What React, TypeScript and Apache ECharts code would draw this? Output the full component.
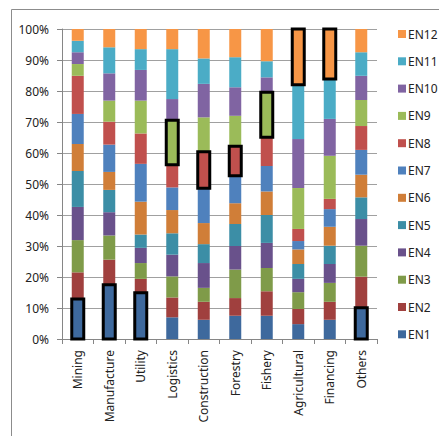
import React, { useEffect, useRef } from "react";
import * as echarts from "echarts";

// Industry categories along the x axis
const categories = [
  "Mining",
  "Manufacture",
  "Utility",
  "Logistics",
  "Construction",
  "Forestry",
  "Fishery",
  "Agricultural",
  "Financing",
  "Others",
];

const seriesNames = ["EN1", "EN2", "EN3", "EN4", "EN5", "EN6", "EN7", "EN8", "EN9", "EN10", "EN11", "EN12"];

// Share (%) of each component per industry
const en1 = [12.9, 17.5, 14.9, 7.0, 6.2, 7.5, 7.5, 4.8, 6.2, 10.1];
const en2 = [8.6, 8.1, 4.5, 6.4, 5.8, 5.7, 7.9, 4.9, 5.8, 10.0];
const en3 = [10.4, 7.8, 5.1, 6.8, 4.5, 9.2, 7.5, 5.4, 6.1, 10.0];
const en4 = [10.7, 7.5, 4.9, 7.0, 8.0, 7.6, 8.1, 4.3, 6.1, 8.6];
const en5 = [11.6, 7.2, 4.3, 6.9, 6.1, 7.1, 9.0, 4.8, 5.9, 7.0];
const en6 = [8.7, 5.8, 10.6, 7.5, 6.8, 6.7, 7.6, 4.7, 6.1, 7.3];
const en7 = [9.7, 8.8, 12.2, 7.3, 11.2, 8.9, 8.2, 2.7, 5.7, 8.0];
const en8 = [12.3, 7.4, 9.8, 7.3, 11.8, 9.5, 9.3, 3.9, 3.3, 7.7];
const en9 = [3.8, 6.8, 10.6, 14.4, 11.1, 9.8, 14.5, 13.2, 13.9, 8.4];
const en10 = [3.8, 8.8, 9.9, 6.8, 10.8, 9.2, 4.8, 15.8, 11.9, 7.8];
const en11 = [3.7, 8.4, 6.7, 16.1, 8.2, 9.7, 5.2, 17.5, 12.9, 7.6];
const en12 = [3.8, 5.9, 6.5, 6.5, 9.5, 9.1, 10.4, 18.0, 16.1, 7.5];

// The component outlined in each industry
const highlighted = ["EN1", "EN1", "EN1", "EN9", "EN8", "EN8", "EN9", "EN12", "EN12", "EN1"];

const yTicks = [0, 10, 20, 30, 40, 50, 60, 70, 80, 90, 100];

const colors = [
  "#3E699D",
  "#A0403E",
  "#7F9B49",
  "#69518B",
  "#3C8EA6",
  "#D07E38",
  "#4F81BD",
  "#C0504D",
  "#9BBB59",
  "#8064A2",
  "#4BACC6",
  "#F79646",
];

const seriesValues = [en1, en2, en3, en4, en5, en6, en7, en8, en9, en10, en11, en12];

export default function App() {
  const ref = useRef<HTMLDivElement>(null);

  useEffect(() => {
    if (!ref.current) return;
    const chart = echarts.init(ref.current, undefined, { renderer: "svg" });

    const font = "'Noto Sans', sans-serif";

    const barSeries = seriesNames.map((name, i) => ({
      name,
      type: "bar",
      stack: "total",
      barWidth: 12,
      itemStyle: { color: colors[i] },
      data: seriesValues[i],
    }));

    // Lower/upper bounds of the outlined segment in each stacked column
    const outlineData = categories.map((_, c) => {
      const idx = seriesNames.indexOf(highlighted[c]);
      let lower = 0;
      for (let s = 0; s < idx; s++) lower += seriesValues[s][c];
      return [c, lower, lower + seriesValues[idx][c]];
    });

    chart.setOption({
      animation: false,
      color: colors,
      graphic: [
        {
          type: "rect",
          shape: { x: 11.5, y: 9.5, width: 600, height: 600 },
          style: { fill: "none", stroke: "#8c8c8c", lineWidth: 1 },
          silent: true,
          z: -10,
        },
      ],
      grid: { left: 62, right: 62, top: 29, bottom: 97 },
      legend: {
        orient: "vertical",
        left: 393,
        top: 23,
        itemWidth: 8,
        itemHeight: 8,
        itemGap: 15.3,
        icon: "rect",
        data: [...seriesNames].reverse(),
        textStyle: { fontFamily: font, fontSize: 12, color: "#222", lineHeight: 12, padding: [0, 0, 0, -3] },
      },
      xAxis: {
        type: "category",
        data: categories,
        axisLine: { lineStyle: { color: "#868686" } },
        axisTick: { show: true, length: 5, lineStyle: { color: "#868686" } },
        axisLabel: {
          rotate: 90,
          margin: 11,
          interval: 0,
          fontFamily: font,
          fontSize: 12,
          color: "#222",
        },
      },
      yAxis: {
        type: "value",
        min: 0,
        max: 100,
        interval: 10,
        axisLine: { show: true, lineStyle: { color: "#868686" } },
        axisTick: { show: true, length: 5, lineStyle: { color: "#868686" } },
        splitLine: { lineStyle: { color: "#a0a0a0" } },
        axisLabel: {
          margin: 13,
          fontFamily: font,
          fontSize: 12,
          color: "#222",
          formatter: (v: number) => (yTicks.includes(v) ? `${v}%` : ""),
        },
      },
      series: [
        ...barSeries,
        {
          type: "custom",
          z: 10,
          silent: true,
          encode: { x: 0, y: [1, 2] },
          data: outlineData,
          renderItem: (_params: any, api: any) => {
            const c = api.value(0);
            const lo = api.coord([c, api.value(1)]);
            const hi = api.coord([c, api.value(2)]);
            return {
              type: "rect",
              shape: { x: lo[0] - 6, y: hi[1], width: 12, height: lo[1] - hi[1] },
              style: { fill: "none", stroke: "#000", lineWidth: 3 },
            };
          },
        },
      ],
    });

    return () => chart.dispose();
  }, []);

  return (
    <div
      ref={ref}
      style={{ position: "fixed", left: 0, top: 0, width: 439, height: 436, background: "#fff" }}
    />
  );
}
